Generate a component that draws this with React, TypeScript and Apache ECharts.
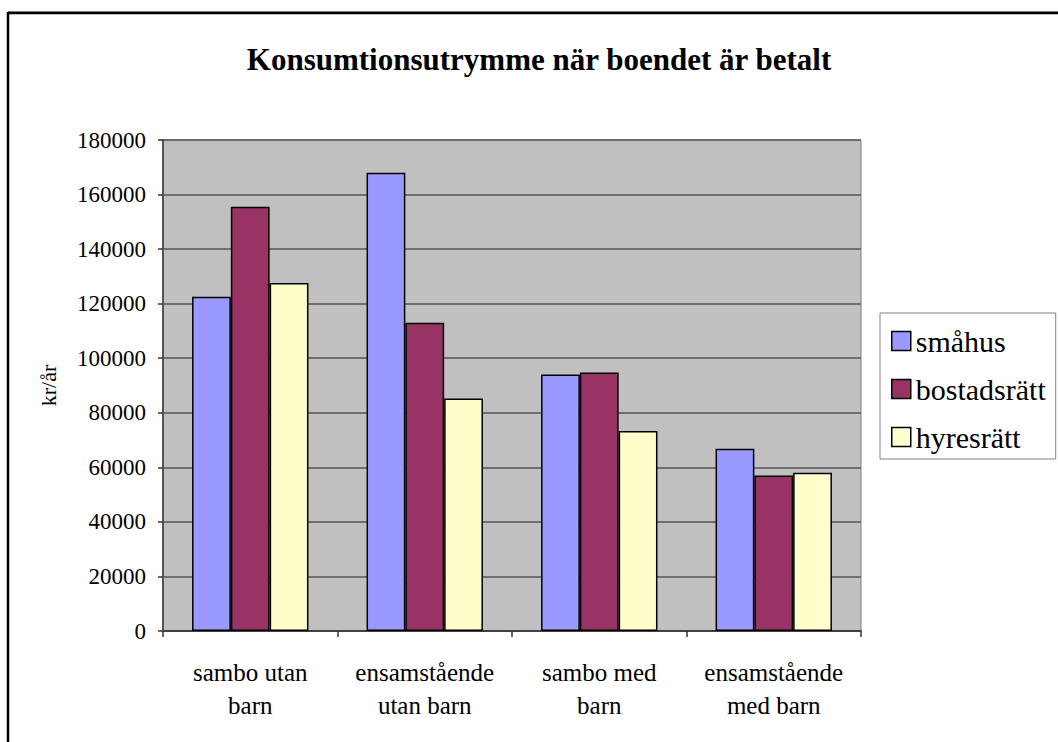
import React, { useEffect, useRef } from "react";
import * as echarts from "echarts";

const titleText = "Konsumtionsutrymme när boendet är betalt";
const categories = [
  "sambo utan\nbarn",
  "ensamstående\nutan barn",
  "sambo med\nbarn",
  "ensamstående\nmed barn",
];
const seriesNames = ["småhus", "bostadsrätt", "hyresrätt"];
const smahus = [122500, 168000, 94000, 66800];
const bostadsratt = [155500, 113000, 94800, 57000];
const hyresratt = [127600, 85200, 73300, 58000];
const colors = ["#9999FF", "#993366", "#FFFFCC"];
const yAxisName = "kr/år";

const FONT = "Liberation Serif";

export default function App() {
  const ref = useRef<HTMLDivElement>(null);
  useEffect(() => {
    if (!ref.current) return;
    const chart = echarts.init(ref.current, null, { renderer: "svg" });
    const values = [smahus, bostadsratt, hyresratt];
    chart.setOption({
      animation: false,
      backgroundColor: "#ffffff",
      textStyle: { fontFamily: FONT },
      title: {
        text: titleText,
        left: 534,
        top: 39,
        textAlign: "center",
        textStyle: { fontFamily: FONT, fontWeight: "bold", fontSize: 31, color: "#000" },
      },
      legend: {
        orient: "vertical",
        left: 880,
        top: 313,
        padding: [13, 10, 7, 11],
        itemGap: 18,
        itemWidth: 19,
        itemHeight: 19,
        borderColor: "#808080",
        borderWidth: 1,
        backgroundColor: "#ffffff",
        icon: "rect",
        itemStyle: { borderColor: "#000", borderWidth: 1.5 },
        textStyle: { fontFamily: FONT, fontSize: 30, color: "#000", lineHeight: 29 },
        data: seriesNames,
      },
      grid: {
        left: 163,
        right: 197,
        top: 140,
        bottom: 111,
        show: true,
        backgroundColor: "#C0C0C0",
        borderColor: "#808080",
        borderWidth: 1,
      },
      xAxis: {
        type: "category",
        data: categories,
        axisLine: { lineStyle: { color: "#333", width: 1.5 } },
        axisTick: { show: true, length: 6, inside: false, lineStyle: { color: "#333", width: 1.5 } },
        axisLabel: {
          fontFamily: FONT,
          fontSize: 25,
          color: "#000",
          lineHeight: 33,
          margin: 25,
          interval: 0,
        },
      },
      yAxis: {
        type: "value",
        min: 0,
        max: 180000,
        interval: 20000,
        name: yAxisName,
        nameLocation: "middle",
        nameRotate: 90,
        nameGap: 104,
        nameTextStyle: { fontFamily: FONT, fontSize: 22, color: "#000" },
        axisLine: { show: true, lineStyle: { color: "#555", width: 2 } },
        axisTick: { show: true, length: 5, inside: false, lineStyle: { color: "#333", width: 1.5 } },
        axisLabel: {
          fontFamily: FONT,
          fontSize: 23,
          color: "#000",
          margin: 17,
          formatter: (v: number) => String(v),
        },
        splitLine: { show: true, lineStyle: { color: "#555", width: 1.5 } },
      },
      series: seriesNames.map((name, i) => ({
        name,
        type: "bar",
        data: values[i],
        barGap: "0%",
        barCategoryGap: "33.3%",
        itemStyle: { color: colors[i], borderColor: "#000", borderWidth: 1.5 },
      })),
      graphic: [
        {
          type: "line",
          shape: { x1: 8, y1: 11.5, x2: 1060, y2: 11.5 },
          style: { stroke: "#a0a0a0", lineWidth: 1 },
          silent: true,
        },
        {
          type: "line",
          shape: { x1: 8, y1: 13, x2: 1060, y2: 13 },
          style: { stroke: "#000", lineWidth: 2.5 },
          silent: true,
        },
        {
          type: "line",
          shape: { x1: 8, y1: 12, x2: 8, y2: 750 },
          style: { stroke: "#000", lineWidth: 2.5 },
          silent: true,
        },
      ],
    });
    return () => chart.dispose();
  }, []);
  return (
    <div
      ref={ref}
      style={{ position: "absolute", left: 0, top: 0, width: 1058, height: 742 }}
    />
  );
}
